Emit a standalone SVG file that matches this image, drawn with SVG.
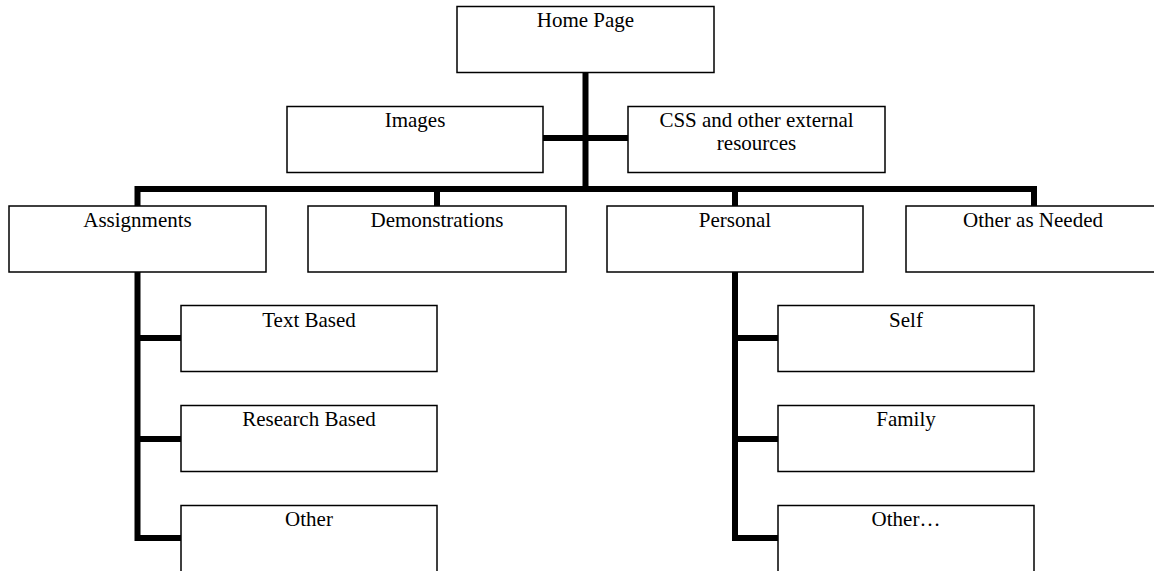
<svg xmlns="http://www.w3.org/2000/svg" width="1154" height="571" viewBox="0 0 1154 571">
<style>
.box{fill:#fff;stroke:#000;stroke-width:1.5}
.t{font-family:"Liberation Serif","Times New Roman",serif;font-size:21px;fill:#000;text-anchor:middle}
.c{fill:none;stroke:#000;stroke-width:6;stroke-linejoin:miter;stroke-linecap:butt}
</style>
<rect width="1154" height="571" fill="#fff"/>
<g id="connectors">
<path class="c" d="M585.5 73 V189"/>
<path class="c" d="M543 138 H628"/>
<path class="c" d="M137.5 206 V189 H1034 V206"/>
<path class="c" d="M437 189 V206"/>
<path class="c" d="M735 189 V206"/>
<path class="c" d="M137.5 272 V538 H181"/>
<path class="c" d="M137.5 338 H181"/>
<path class="c" d="M137.5 439 H181"/>
<path class="c" d="M735 272 V538 H778"/>
<path class="c" d="M735 338 H778"/>
<path class="c" d="M735 439 H778"/>
</g>
<g id="home"><rect class="box" x="457" y="6.5" width="257" height="66"/><text class="t" x="585.5" y="27">Home Page</text></g>
<g id="images"><rect class="box" x="287" y="106.5" width="256" height="66"/><text class="t" x="415" y="127">Images</text></g>
<g id="css"><rect class="box" x="628" y="106.5" width="257" height="66"/><text class="t" x="756.5" y="127">CSS and other external</text><text class="t" x="756.5" y="150">resources</text></g>
<g id="assignments"><rect class="box" x="9" y="206" width="257" height="66"/><text class="t" x="137.5" y="227">Assignments</text></g>
<g id="demonstrations"><rect class="box" x="308" y="206" width="258" height="66"/><text class="t" x="437" y="227">Demonstrations</text></g>
<g id="personal"><rect class="box" x="607" y="206" width="256" height="66"/><text class="t" x="735" y="227">Personal</text></g>
<g id="other-needed"><rect class="box" x="906" y="206" width="256" height="66"/><text class="t" x="1033" y="227">Other as Needed</text></g>
<g id="text-based"><rect class="box" x="181" y="305.5" width="256" height="66"/><text class="t" x="309" y="327">Text Based</text></g>
<g id="research-based"><rect class="box" x="181" y="405.5" width="256" height="66"/><text class="t" x="309" y="426">Research Based</text></g>
<g id="other-a"><rect class="box" x="181" y="505.5" width="256" height="70"/><text class="t" x="309" y="526">Other</text></g>
<g id="self"><rect class="box" x="778" y="305.5" width="256" height="66"/><text class="t" x="906" y="327">Self</text></g>
<g id="family"><rect class="box" x="778" y="405.5" width="256" height="66"/><text class="t" x="906" y="426">Family</text></g>
<g id="other-p"><rect class="box" x="778" y="505.5" width="256" height="70"/><text class="t" x="906" y="526">Other…</text></g>
</svg>
